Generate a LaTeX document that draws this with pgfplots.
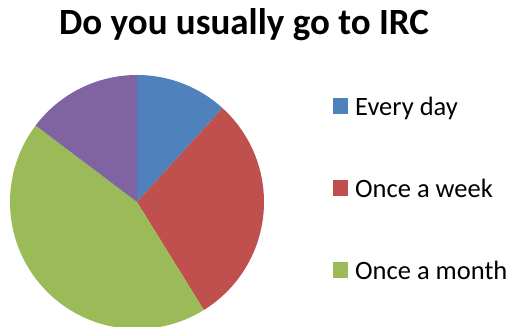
\documentclass[border=0pt]{standalone}
\usepackage{pgfplots}
\pgfplotsset{compat=1.18}
\usepackage{fontspec}
\setmainfont{Carlito}
\definecolor{cBlue}{HTML}{4F81BD}
\definecolor{cRed}{HTML}{C0504D}
\definecolor{cGreen}{HTML}{9BBB59}
\definecolor{cPurple}{HTML}{8064A2}
% values: Every day, Once a week, Once a month, (unlabelled)
\def\vA{8}\def\vB{20}\def\vC{30}\def\vD{10}
\pgfmathsetmacro{\tot}{\vA+\vB+\vC+\vD}
\pgfmathsetmacro{\aA}{90}
\pgfmathsetmacro{\aB}{\aA-360*\vA/\tot}
\pgfmathsetmacro{\aC}{\aB-360*\vB/\tot}
\pgfmathsetmacro{\aD}{\aC-360*\vC/\tot}
\pgfmathsetmacro{\aE}{\aD-360*\vD/\tot}
\begin{document}
\begin{tikzpicture}
\begin{axis}[
  at={(0,0)}, anchor=south west,
  scale only axis, width=510bp, height=327bp,
  xmin=0, xmax=510, ymin=0, ymax=327,
  hide axis, clip=true,
  legend style={at={(axis cs:333,232)}, anchor=north west, draw=none, fill=none,
    font=\fontsize{26.5bp}{30bp}\selectfont, row sep=58bp, inner sep=0pt},
  legend cell align=left,
  legend image code/.code={\fill[#1,draw=none] (0bp,-7bp) rectangle (15bp,9bp);
    \path (20bp,0bp);},
]
\addplot[fill=cBlue, draw=none, domain=\aB:\aA, samples=80, variable=\t]
  ({137+127*cos(\t)}, {125+127*sin(\t)}) -- (axis cs:137,125) -- cycle;
\addlegendentry{Every day}
\addplot[fill=cRed, draw=none, domain=\aC:\aB, samples=80, variable=\t]
  ({137+127*cos(\t)}, {125+127*sin(\t)}) -- (axis cs:137,125) -- cycle;
\addlegendentry{Once a week}
\addplot[fill=cGreen, draw=none, domain=\aD:\aC, samples=100, variable=\t]
  ({137+127*cos(\t)}, {125+127*sin(\t)}) -- (axis cs:137,125) -- cycle;
\addlegendentry{Once a month}
\addplot[fill=cPurple, draw=none, domain=\aE:\aD, samples=60, variable=\t, forget plot]
  ({137+127*cos(\t)}, {125+127*sin(\t)}) -- (axis cs:137,125) -- cycle;
\node[font=\fontsize{37bp}{40bp}\selectfont\bfseries, anchor=base] at (axis cs:244,292) {Do you usually go to IRC};
\end{axis}
\pgfresetboundingbox
\path[use as bounding box] (0,0) rectangle (510bp,327bp);
\end{tikzpicture}
\end{document}
